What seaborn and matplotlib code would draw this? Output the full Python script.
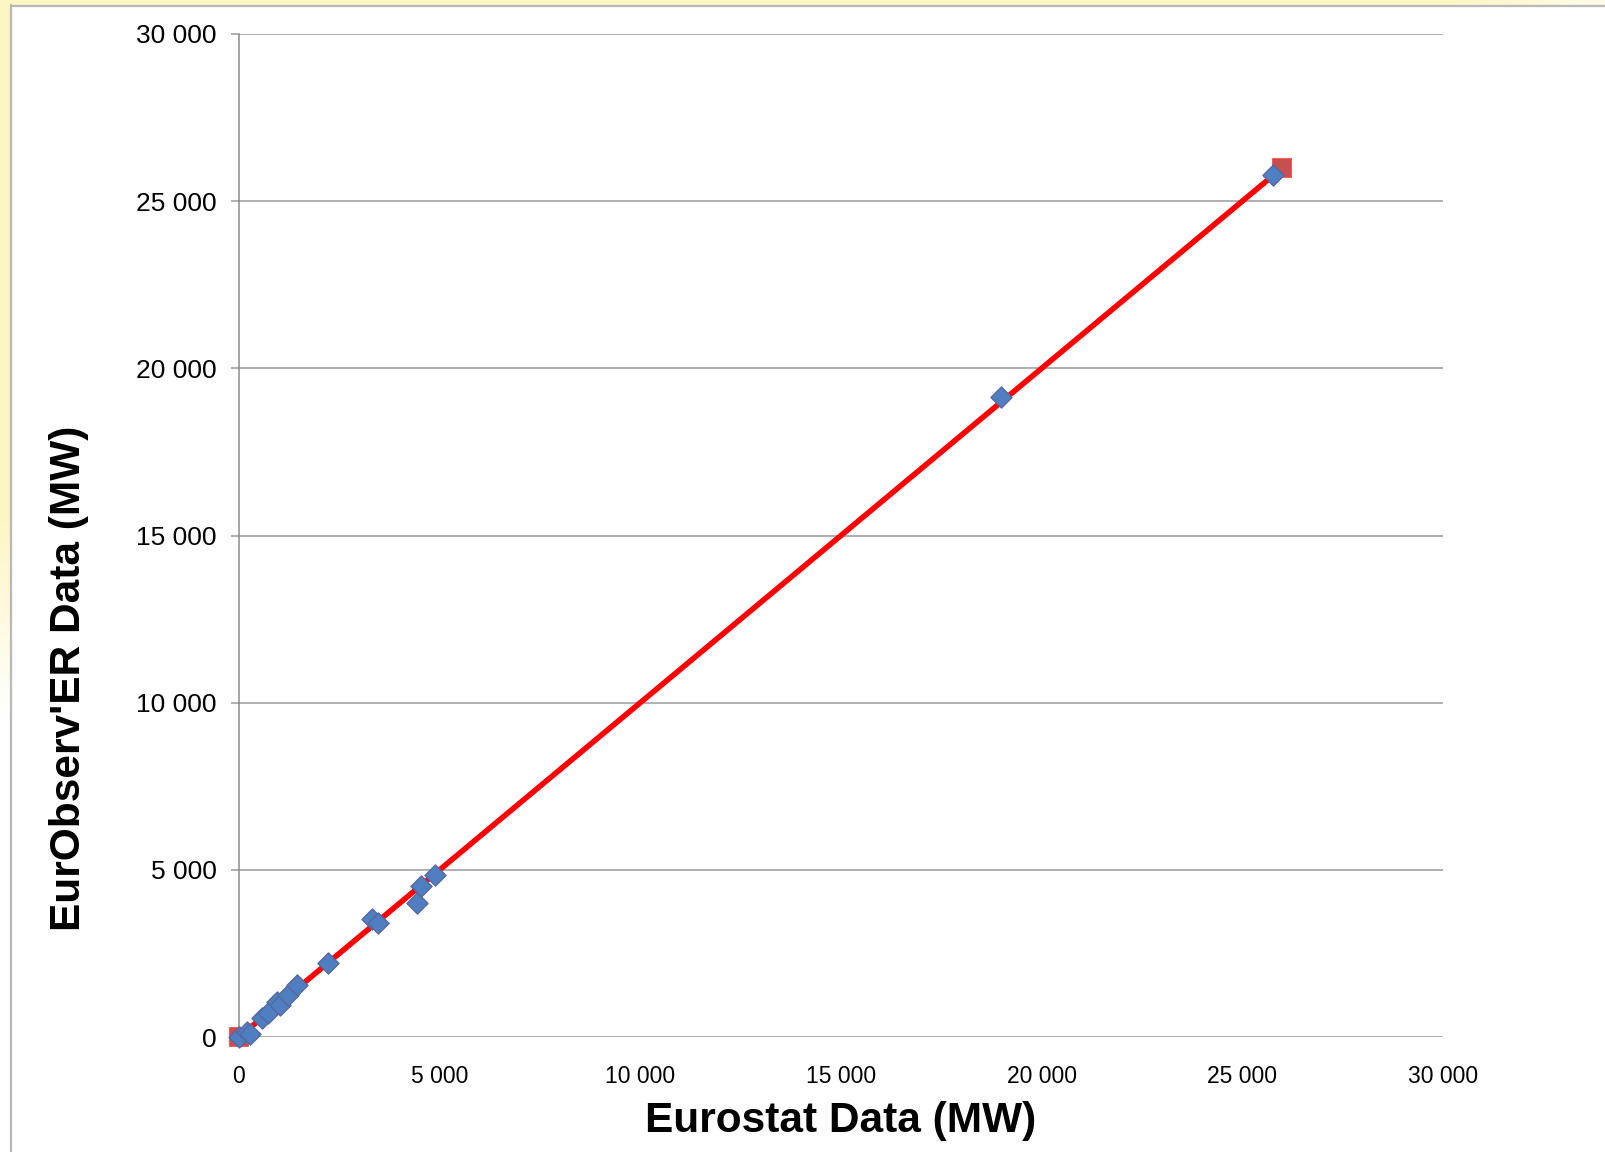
import matplotlib
matplotlib.use("Agg")
import matplotlib.pyplot as plt
import numpy as np
import seaborn as sns
from matplotlib.lines import Line2D

# values (MW)
eurostat_mw = [0, 192, 274, 565, 715, 940, 1020, 1230, 1437, 2226,
               3306, 3472, 4428, 4535, 4884, 18981, 25774]
eurobserver_mw = [0, 160, 90, 560, 728, 1057, 960, 1257, 1560, 2206,
                  3524, 3422, 4022, 4521, 4850, 19153, 25778]
# 1:1 reference line
line_x = [0, 26000]
line_y = [0, 26000]

ticks = [0, 5000, 10000, 15000, 20000, 25000, 30000]
tick_labels = ["0", "5 000", "10 000", "15 000", "20 000", "25 000", "30 000"]

sns.set_style("white")
plt.rcParams["font.family"] = ["Liberation Sans", "DejaVu Sans"]
plt.rcParams["text.color"] = "black"
plt.rcParams["axes.labelcolor"] = "black"
plt.rcParams["xtick.color"] = "black"
plt.rcParams["ytick.color"] = "black"

fig = plt.figure(figsize=(16.06, 11.52), dpi=100)
ax = fig.add_axes([0.1488, 0.0998, 0.7497, 0.8707])

# yellow frame strips with a fade, like the slide background
W, H = 1606, 1152
yellow = np.array([253, 246, 196]) / 255
white = np.ones(3)
fade = np.clip((np.arange(H) - 520) / 200, 0, 1)[:, None]
left = (yellow * (1 - fade) + white * fade)[:, None, :].repeat(11, axis=1)
fig.figimage(left, xo=0, yo=0, origin="upper", zorder=0)
fade_top = np.clip((np.arange(W) - 1450) / 150, 0, 1)[:, None] * 0.6
top = (yellow * (1 - fade_top) + white * fade_top)[None, :, :].repeat(5, axis=0)
fig.figimage(top, xo=0, yo=H - 5, origin="upper", zorder=0)
fig.add_artist(Line2D([11.5 / W, 11.5 / W], [0, 1 - 5 / H], transform=fig.transFigure,
                      color="#b8b8b8", lw=1.6))
fig.add_artist(Line2D([11.5 / W, 1], [1 - 5.5 / H, 1 - 5.5 / H], transform=fig.transFigure,
                      color="#b8b8b8", lw=1.6))

sns.lineplot(x=line_x, y=line_y, ax=ax, color="#ff0000", linewidth=4.0,
             marker="s", markersize=13, markerfacecolor="#c5504f",
             markeredgecolor="#e8403f", markeredgewidth=1.2, zorder=2,
             clip_on=False)
sns.scatterplot(x=eurostat_mw, y=eurobserver_mw, ax=ax, marker="D", s=115,
                color="#4f7fc0", edgecolor="#5868a0", linewidth=1.0, zorder=3,
                clip_on=False)

ax.set_xlim(0, 30000)
ax.set_ylim(0, 30000)
ax.set_xticks(ticks)
ax.set_yticks(ticks)
ax.set_yticklabels(tick_labels, fontsize=19)
ax.set_xticklabels(tick_labels, fontsize=16.5)

ax.grid(axis="y", color="#9a9a9a", linewidth=1.1)
ax.grid(axis="x", visible=False)
for s in ["top", "right", "bottom"]:
    ax.spines[s].set_visible(False)
ax.spines["left"].set_color("#8a8a8a")
ax.spines["left"].set_linewidth(1.1)
ax.tick_params(axis="y", direction="out", length=6, width=1.1,
               pad=10, left=True, labelcolor="black", color="#9a9a9a")
ax.tick_params(axis="x", length=0, pad=20, labelcolor="black")

ax.set_xlabel("Eurostat Data (MW)", fontsize=30.5, fontweight="bold", color="black")
ax.set_ylabel("EurObserv'ER Data (MW)", fontsize=30.5, fontweight="bold", color="black")
ax.xaxis.set_label_coords(0.5, -0.0837)
ax.xaxis.label.set_verticalalignment("center")
ax.yaxis.set_label_coords(-0.141, 0.358)
ax.yaxis.label.set_verticalalignment("center")

fig.savefig("out.png", dpi=100)
